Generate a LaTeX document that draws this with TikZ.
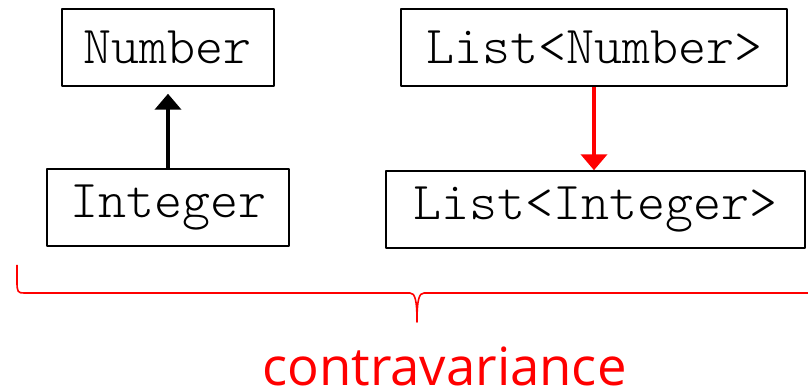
\documentclass[tikz,border=0pt]{standalone}
\usepackage{fontspec}
\setmonofont{Latin Modern Mono Light}
\setsansfont{Open Sans}
\usetikzlibrary{arrows.meta}
\begin{document}
\begin{tikzpicture}[x=0.75pt,y=-0.75pt, line join=round,
    typebox/.style={draw, line width=1.1pt, minimum height=57.75pt, inner xsep=0pt,
        font=\ttfamily\fontsize{40}{44}\selectfont},
    >={Triangle[width=19.5pt,length=12pt]}]
    \useasboundingbox (0,0) rectangle (808,392);
    \node[typebox, minimum width=159pt] (number) at (168,47.5) {Number};
    \node[typebox, minimum width=181.5pt] (integer) at (168,207.5) {Integer};
    \node[typebox, minimum width=289.5pt] (listnum) at (594,47.5) {List<Number>};
    \node[typebox, minimum width=314.25pt] (listint) at (595.5,209.5) {List<Integer>};
    \draw[->, line width=3pt, shorten >=5.25pt] (integer) -- (number);
    \draw[->, line width=3pt, red] (listnum) -- (listnum |- listint.north);
    % brace under both pairs
    \begin{scope}
        \clip (0,0) rectangle (808,392);
        \draw[red, line width=1.2pt]
            (17,265) -- (17,282) .. controls (17,292) and (18,293) .. (24,293)
            -- (410,293) .. controls (415,293) and (417,300) .. (417,322)
            .. controls (417,300) and (419,293) .. (424,293)
            -- (810,293) .. controls (816,293) and (817,292) .. (817,265);
    \end{scope}
    \node[red, anchor=base, inner sep=0pt, font=\sffamily\fontsize{39.5}{44}\selectfont] (label) at (444.5,386) {contravariance};
\end{tikzpicture}
\end{document}
